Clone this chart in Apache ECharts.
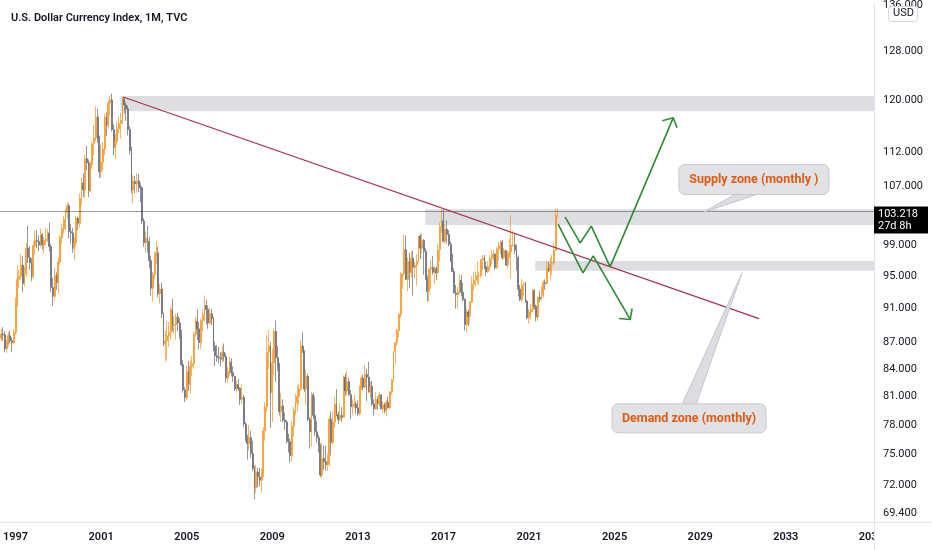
<!DOCTYPE html>
<html><head><meta charset="utf-8">
<script src="https://cdn.jsdelivr.net/npm/echarts@6/dist/echarts.min.js"></script>
<style>html,body{margin:0;padding:0;background:#fff}#c{width:932px;height:550px}</style>
</head><body><div id="c"></div>
<script>
// ---------- DATA ----------
const titleText = 'U.S. Dollar Currency Index, 1M, TVC';
const firstMonth = [1996, 5];      // first category (May 1996)
const monthCount = 490;            // categories through Feb 2037
const firstOpen = 87.5;
// monthly closes, May 1996 .. May 2022 (open of each bar = previous close)
const closes = [
  88.0,87.9,86.3,86.9,87.8,87.2,87.0,88.2,
  91.6,94.6,95.0,96.4,94.1,95.3,98.6,97.4,96.7,95.0,98.9,99.6,
  99.5,99.0,100.4,99.0,99.6,99.8,100.6,98.8,93.6,92.5,95.1,94.2,
  96.8,100.0,101.2,102.4,103.4,104.3,100.8,100.6,98.6,99.3,102.6,101.9,
  105.3,107.5,106.5,111.0,110.4,106.4,110.1,113.2,114.1,117.3,114.1,109.1,
  110.5,112.4,117.3,116.0,119.5,120.0,115.4,112.7,113.6,115.5,116.3,116.8,
  120.2,119.2,118.6,115.4,112.2,106.5,107.7,107.4,107.8,107.0,106.8,102.2,
  99.3,99.9,99.5,97.0,93.5,95.2,97.6,98.0,92.8,93.4,90.4,86.9,
  87.2,87.8,88.2,90.9,89.0,89.1,90.0,89.3,87.8,84.5,81.7,80.9,
  83.7,82.3,84.3,84.6,88.0,89.5,88.6,87.0,89.6,90.3,91.4,90.9,
  89.3,90.4,89.8,86.6,85.5,85.3,85.2,85.1,85.9,85.4,83.0,83.7,
  84.8,83.6,83.2,81.8,82.3,81.9,80.7,80.9,78.1,76.6,76.1,76.7,
  75.1,73.6,71.8,73.3,72.8,72.5,73.1,77.4,79.9,85.9,86.6,81.4,
  84.7,88.3,85.3,84.5,79.4,80.0,78.5,78.3,76.6,76.3,74.9,77.9,
  79.5,80.3,81.0,81.8,86.6,86.0,81.8,83.2,78.6,77.3,81.2,79.0,
  77.3,76.7,75.9,73.0,74.6,74.3,74.0,74.3,78.6,76.2,78.3,80.2,
  79.1,78.6,79.0,78.8,83.1,81.6,82.6,81.2,79.9,79.9,80.2,79.8,
  79.2,82.0,83.0,82.0,83.4,83.1,81.5,82.1,80.2,79.7,80.7,80.2,
  81.2,79.7,80.1,79.5,80.4,79.8,81.5,82.8,86.0,87.0,88.4,90.3,
  94.8,95.3,98.4,94.6,96.9,95.5,97.3,96.1,96.4,96.9,100.2,98.6,
  99.6,98.2,94.6,93.1,95.9,96.1,95.5,96.0,95.4,98.4,101.5,102.2,
  99.5,101.1,100.4,99.1,97.0,95.6,92.9,92.7,93.1,94.5,93.0,92.1,
  89.1,90.6,90.1,91.8,94.0,94.5,94.5,95.1,95.1,97.1,97.3,96.2,
  95.6,96.2,97.3,97.5,97.8,96.1,98.5,98.9,99.4,97.4,98.3,96.4,
  97.4,98.1,99.0,99.0,98.3,97.4,93.4,92.1,93.9,94.0,91.9,89.9,
  90.6,90.9,93.2,91.3,90.0,92.4,92.2,92.6,94.2,94.1,96.0,95.7,
  96.5,96.7,98.3,103.0,103.218
];
const highs = [
  88.6,88.8,88.3,87.3,88.2,88.4,87.6,88.6,
  92.4,96.4,95.8,97.9,97.6,96.2,99.3,101.6,98.9,97.3,99.6,100.9,
  101.0,100.3,101.2,100.6,100.1,101.3,101.2,102.0,99.2,94.8,96.1,95.5,
  97.4,100.3,101.9,102.9,103.9,104.8,104.6,101.8,101.3,100.0,102.9,102.8,
  106.0,108.3,108.9,111.6,112.9,110.9,110.6,113.6,116.1,119.0,118.6,114.5,
  113.1,113.5,117.8,118.0,119.9,120.7,121.0,116.2,114.7,116.6,117.4,118.0,
  120.5,120.2,119.6,119.1,115.9,112.8,108.6,108.5,108.9,108.8,107.5,107.0,
  102.6,100.8,101.6,100.1,97.6,95.5,98.2,99.6,98.8,94.0,94.2,90.5,
  88.4,89.5,89.4,91.3,92.2,90.1,90.4,90.5,89.8,88.5,85.0,82.0,
  84.4,84.9,85.0,85.5,88.3,90.0,90.9,89.4,89.8,90.9,92.6,92.1,
  91.4,91.1,91.0,90.0,87.1,86.7,86.5,85.9,86.6,86.9,85.8,84.2,
  85.4,85.2,84.3,83.2,82.7,82.9,82.0,82.3,81.2,78.3,77.0,78.0,
  77.4,76.4,73.9,74.0,73.7,73.7,73.6,77.8,80.4,87.9,88.5,87.0,
  86.3,88.6,89.6,86.6,84.7,81.4,80.7,79.3,78.5,77.1,76.6,78.4,
  79.9,81.3,82.2,82.4,87.3,88.2,86.1,84.0,83.5,78.8,81.5,81.4,
  81.0,78.4,77.0,76.1,76.2,75.9,75.9,75.1,78.9,79.4,79.4,81.0,
  81.8,79.4,80.3,79.9,83.3,83.5,83.8,83.0,81.7,80.7,81.2,80.5,
  80.6,82.2,83.2,83.4,84.5,84.0,84.8,82.6,82.7,80.7,81.5,81.0,
  81.5,81.2,80.5,80.3,80.6,81.0,81.6,82.9,86.0,87.0,88.6,90.5,
  95.5,95.3,100.4,100.3,97.4,98.0,98.2,98.3,96.8,97.8,100.2,100.5,
  100.5,99.8,98.6,95.1,96.0,97.1,97.6,96.3,96.2,99.1,102.0,103.8,
  103.8,101.8,102.3,101.0,99.5,97.9,96.0,93.9,93.7,95.2,95.2,94.2,
  92.3,91.0,90.9,91.9,95.0,95.5,95.6,96.9,95.6,97.2,97.7,97.7,
  96.9,96.9,97.7,98.4,98.4,98.0,98.7,99.4,99.7,99.7,98.6,98.3,
  98.2,99.9,103.0,100.9,100.5,99.1,97.6,93.9,94.7,94.3,94.3,92.1,
  91.0,91.6,93.4,93.4,91.5,92.4,93.2,93.7,94.5,94.6,96.9,96.9,
  97.4,97.7,99.4,103.9,103.9
];
const lows = [
  87.2,87.2,85.9,85.8,86.6,86.9,85.9,86.8,
  87.9,91.2,93.5,94.6,93.0,93.7,94.9,96.7,95.8,94.4,94.6,97.8,
  98.6,98.2,98.7,98.4,97.9,99.0,99.4,98.2,93.0,91.3,92.0,93.3,
  92.8,96.4,99.2,100.5,101.0,102.6,99.9,99.2,98.0,97.1,98.8,101.0,
  101.3,104.4,105.5,105.4,109.3,105.5,106.2,109.5,111.5,113.6,113.4,108.2,
  108.3,109.3,111.5,114.4,115.5,117.5,115.1,111.5,111.0,113.0,114.7,114.0,
  116.2,117.9,116.7,114.5,111.6,106.0,104.7,106.0,106.1,106.2,104.8,101.8,
  98.8,98.0,98.0,96.0,92.6,91.9,94.6,96.5,92.4,91.6,89.9,86.6,
  84.8,85.0,86.5,87.4,88.3,88.0,87.3,88.3,87.4,84.3,81.4,80.4,
  80.6,81.6,81.3,83.2,84.0,87.7,87.3,86.2,86.3,88.3,89.5,89.1,
  88.6,89.1,89.0,86.0,84.3,84.8,84.6,84.3,84.7,84.9,82.5,82.5,
  83.3,83.2,82.6,81.6,81.4,81.6,80.1,80.2,77.8,76.3,74.5,75.4,
  74.7,73.4,70.7,71.3,71.8,71.9,71.3,72.8,76.4,79.3,84.0,77.7,
  78.3,83.3,82.6,83.8,79.0,78.3,78.3,77.5,76.1,75.2,74.2,74.3,
  76.8,79.0,79.4,80.1,81.6,85.8,81.5,80.1,78.4,75.6,75.8,78.6,
  76.9,76.2,75.2,72.8,72.7,73.5,73.4,73.4,73.8,74.9,76.0,77.7,
  78.9,78.1,78.4,78.3,78.8,81.1,81.2,81.1,78.6,79.0,79.8,79.1,
  78.9,79.0,81.7,81.7,81.9,80.5,81.4,80.8,80.0,79.0,79.6,79.6,
  79.9,79.6,79.2,79.2,78.9,79.7,79.7,81.2,82.6,84.5,86.6,87.6,
  89.9,93.4,95.1,94.5,93.1,93.5,94.9,92.6,94.7,93.8,96.8,97.2,
  97.9,95.2,94.6,91.9,91.9,93.4,95.2,94.0,94.5,95.4,96.9,100.6,
  99.4,99.2,99.2,98.8,96.8,95.5,92.9,91.0,91.0,92.8,92.5,91.9,
  88.4,88.2,88.9,89.2,91.7,93.2,93.7,94.1,93.8,94.8,95.7,95.9,
  95.0,95.4,95.7,96.6,97.0,95.8,95.9,97.0,97.8,97.1,97.2,96.4,
  96.0,97.3,94.7,98.8,97.8,95.7,92.5,91.9,91.8,92.5,91.7,89.7,
  89.2,89.7,90.6,90.9,89.5,89.5,91.8,92.0,92.3,93.3,93.9,95.5,
  94.6,95.2,96.6,98.3,102.7
];
const yTicks = [136, 128, 120, 112, 107, 99, 95, 91, 87, 84, 81, 78, 75, 72, 69.4];
const yRange = [68.59, 136.35];
const xYearRange = [1996.2917, 2037.125];   // decimal-year axis matching the month slots
const lastPrice = 103.218;
const lastPriceNote = '27d 8h';
// annotation drawings, in [decimal year, price]
const zones = [            // [start year, end year, low price, high price]
  [2001.90, 2037.125, 118.2, 120.63],
  [2016.15, 2037.125, 101.66, 103.82],
  [2021.29, 2037.125, 95.69, 96.95]
];
const trendLine = [[2002.03, 120.47], [2031.75, 89.82]];
const arrowUp = [[2022.69, 102.73], [2023.39, 99.28], [2023.91, 101.52], [2024.79, 96.19], [2027.74, 117.19]];
const arrowUpHead = [[2027.23, 116.73], [2027.74, 117.19], [2027.92, 115.66]];
const arrowDown = [[2022.36, 101.79], [2023.52, 95.43], [2024.00, 97.59], [2025.73, 89.71]];
const arrowDownHead = [[2025.21, 89.82], [2025.73, 89.71], [2025.82, 91.02]];
const callouts = [
  { text: 'Supply zone (monthly )', box: [2031.51, 108.0], tip: [2029.14, 103.41] },
  { text: 'Demand zone (monthly)', box: [2028.48, 78.69], tip: [2030.96, 95.43] }
];

// ---------- BUILD ----------
const ln = Math.log;
const categories = [];
for (let i = 0; i < monthCount; i++) {
  const m0 = firstMonth[1] - 1 + i;
  const y = firstMonth[0] + Math.floor(m0 / 12);
  const m = (m0 % 12) + 1;
  categories.push(y + '-' + (m < 10 ? '0' + m : m));
}
const candles = closes.map((c, i) => {
  const o = i === 0 ? firstOpen : closes[i - 1];
  return [ln(o), ln(c), ln(lows[i]), ln(highs[i])];
});
const toXY = pts => pts.map(p => [p[0], ln(p[1])]);

const UP = '#f7931e', DOWN = '#646771', GREEN = '#2f8a34', FONT = 'Roboto, "Noto Sans", sans-serif';

const calloutStyle = [
  { w: 150, h: 30, base: [[-17, 14], [6, 14]] },
  { w: 154, h: 29, base: [[-7, -14], [7, -14]] }
];

function arrowSeries(pts) {
  return {
    type: 'line', xAxisIndex: 1, yAxisIndex: 0, data: toXY(pts), symbol: 'none',
    lineStyle: { color: GREEN, width: 1.6 }, z: 6, silent: true
  };
}

const chart = echarts.init(document.getElementById('c'), null, { renderer: 'canvas' });
chart.setOption({
  animation: false,
  backgroundColor: '#ffffff',
  title: {
    text: titleText, left: 6, top: 8,
    textStyle: { fontSize: 11, fontWeight: 600, color: '#131722', fontFamily: FONT }
  },
  grid: { left: 0, right: 58, top: 0, bottom: 28, containLabel: false },
  xAxis: [
    {
      type: 'category', data: categories, boundaryGap: true,
      axisLine: { show: true, lineStyle: { color: '#e0e3eb' } },
      axisTick: { show: false },
      splitLine: { show: false },
      axisLabel: {
        interval: (idx, v) => v.endsWith('-01') && (parseInt(v, 10) - 1997) % 4 === 0,
        formatter: v => v.slice(0, 4),
        color: '#131722', fontSize: 11, fontWeight: 600, fontFamily: FONT, margin: 10
      }
    },
    { type: 'value', min: xYearRange[0], max: xYearRange[1], show: false }
  ],
  yAxis: [{
    type: 'value', position: 'right', min: ln(yRange[0]), max: ln(yRange[1]),
    axisLine: { show: true, lineStyle: { color: '#e0e3eb' } },
    axisTick: { show: false },
    splitLine: { show: false },
    axisLabel: {
      customValues: yTicks.map(ln),
      formatter: v => Math.exp(v).toFixed(3),
      color: '#131722', fontSize: 11, fontFamily: FONT, margin: 9
    }
  }],
  series: [
    {
      type: 'custom', xAxisIndex: 1, yAxisIndex: 0, z: 1, silent: true,
      data: zones.map(z => [z[0], z[1], ln(z[2]), ln(z[3])]),
      encode: { x: [0, 1], y: [2, 3] },
      renderItem: (params, api) => {
        const a = api.coord([api.value(0), api.value(3)]);
        const b = api.coord([api.value(1), api.value(2)]);
        return { type: 'rect', shape: { x: a[0], y: a[1], width: b[0] - a[0], height: b[1] - a[1] },
          style: { fill: 'rgba(206,208,214,0.7)' } };
      }
    },
    {
      type: 'candlestick', xAxisIndex: 0, yAxisIndex: 0, data: candles, z: 3,
      barWidth: 1.4,
      itemStyle: { color: UP, color0: DOWN, borderColor: UP, borderColor0: DOWN, borderWidth: 0.7 },
      markLine: {
        silent: true, symbol: ['none', 'none'],
        data: [{ yAxis: ln(lastPrice) }],
        lineStyle: { type: 'dotted', color: '#3a3d45', width: 1 },
        label: { show: false }
      }
    },
    {
      type: 'line', xAxisIndex: 1, yAxisIndex: 0, data: toXY(trendLine), symbol: 'none', z: 5,
      lineStyle: { color: '#a8344f', width: 1.3 }, silent: true
    },
    arrowSeries(arrowUp), arrowSeries(arrowUpHead), arrowSeries(arrowDown), arrowSeries(arrowDownHead),
    {
      type: 'custom', xAxisIndex: 1, yAxisIndex: 0, z: 8, silent: true,
      data: callouts.map(c => [c.box[0], ln(c.box[1]), c.tip[0], ln(c.tip[1])]),
      encode: { x: [0, 2], y: [1, 3] },
      renderItem: (params, api) => {
        const s = calloutStyle[params.dataIndex];
        const b = api.coord([api.value(0), api.value(1)]);
        const t = api.coord([api.value(2), api.value(3)]);
        return {
          type: 'group', children: [
            { type: 'polygon', shape: { points: [t, [b[0] + s.base[0][0], b[1] + s.base[0][1]], [b[0] + s.base[1][0], b[1] + s.base[1][1]]] },
              style: { fill: '#dcdde2', stroke: '#c4c6cc', lineWidth: 1 } },
            { type: 'rect', shape: { x: b[0] - s.w / 2, y: b[1] - s.h / 2, width: s.w, height: s.h, r: 6 },
              style: { fill: '#e1e2e6', stroke: '#c6c8ce', lineWidth: 1 } },
            { type: 'text', style: { text: callouts[params.dataIndex].text, x: b[0], y: b[1] + 0.5,
              align: 'center', verticalAlign: 'middle', fill: '#e35a12', font: 'bold 12.5px ' + FONT } }
          ]
        };
      }
    },
    {
      type: 'custom', xAxisIndex: 1, yAxisIndex: 0, z: 9, silent: true,
      data: [[xYearRange[1], ln(lastPrice)]],
      encode: { x: 0, y: 1 },
      renderItem: (params, api) => {
        const p = api.coord([api.value(0), api.value(1)]);
        return {
          type: 'group', children: [
            { type: 'rect', shape: { x: p[0], y: p[1] - 7, width: 54, height: 27 }, style: { fill: '#000000' } },
            { type: 'text', style: { text: lastPrice.toFixed(3), x: p[0] + 4, y: p[1] + 1, verticalAlign: 'middle',
              fill: '#ffffff', font: '11px ' + FONT } },
            { type: 'text', style: { text: lastPriceNote, x: p[0] + 4, y: p[1] + 13, verticalAlign: 'middle',
              fill: '#ffffff', font: '11px ' + FONT } }
          ]
        };
      }
    }
  ],
  graphic: [
    // price-scale panel covering the clipped last date label
    { type: 'rect', left: 874.5, top: 523, shape: { width: 58, height: 27 }, style: { fill: '#ffffff' }, z: 100 },
    { type: 'line', shape: { x1: 874, y1: 522.5, x2: 932, y2: 522.5 }, style: { stroke: '#e0e3eb', lineWidth: 1 }, z: 101 },
    { type: 'line', shape: { x1: 874.5, y1: 522, x2: 874.5, y2: 550 }, style: { stroke: '#e0e3eb', lineWidth: 1 }, z: 101 },
    { type: 'rect', left: 888, top: 6, shape: { width: 29, height: 15, r: 3 },
      style: { fill: '#ffffff', stroke: '#d1d4dc', lineWidth: 1 }, z: 10 },
    { type: 'text', left: 893, top: 8, style: { text: 'USD', fill: '#131722', font: '11px ' + FONT }, z: 11 }
  ]
});
</script>
</body></html>
